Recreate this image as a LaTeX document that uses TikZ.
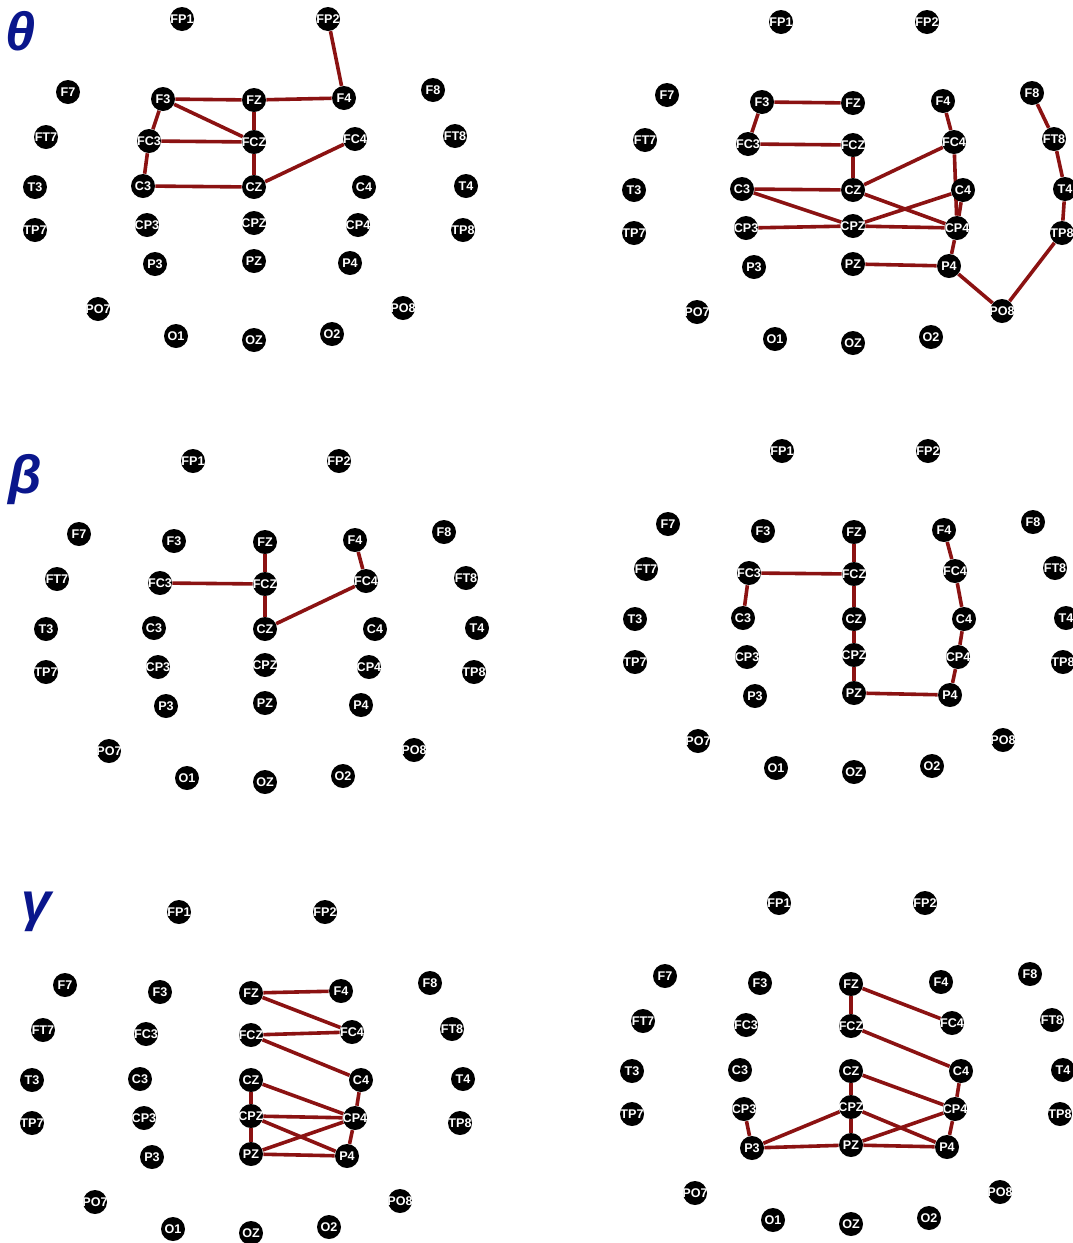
\documentclass[tikz,border=0pt]{standalone}
\usepackage{fontspec}
\setmainfont{Liberation Sans}
\setsansfont{Liberation Sans}
\definecolor{eegred}{HTML}{8B1212}
\definecolor{bandblue}{HTML}{0A168C}
\pgfdeclarelayer{bg}
\pgfsetlayers{bg,main}
\tikzset{
  elec/.style={circle,fill=black,minimum size=12pt,inner sep=0pt},
  elabel/.style={text=white,font=\sffamily\bfseries\fontsize{6.3}{6.3}\selectfont,inner sep=0pt},
  lnk/.style={draw=eegred,line width=1.8pt},
  band/.style={text=bandblue,font=\bfseries\itshape\fontsize{27}{27}\selectfont,inner sep=0pt},
}
% electrode layout of one head map (pixels, y down)
\def\electrodes{FP1/182/19,FP2/328/19,F7/68/92,F3/163/99,FZ/254/100,F4/344/98,F8/433/90,
  FT7/46/137,FC3/149/141,FCZ/254/142,FC4/355/139,FT8/455/136,
  T3/35/187,C3/143/186,CZ/254/187,C4/364/187,T4/466/186,
  TP7/35/230,CP3/147/225,CPZ/254/223,CP4/358/225,TP8/463/230,
  P3/155/264,PZ/254/261,P4/350/263,PO7/98/309,PO8/403/308,O1/176/336,OZ/254/340,O2/332/334}
\begin{document}
\begin{tikzpicture}[x=0.5pt,y=-0.5pt]
  \useasboundingbox (0,0) rectangle (1072,1243);
  \foreach \p/\dx/\dy in {p1/0/0,p2/599/3,p3/11/442,p4/600/432,p5/-3/893,p6/597/884}
    \foreach \n/\x/\y in \electrodes
      \node[elec,label={[elabel]center:\n}] (\p\n) at ({\x+\dx},{\y+\dy}) {};
  \node[band] (theta) at (21,31) {θ};
  \node[band] (beta) at (25,480) {β};
  \node[band] (gamma) at (37,912) {γ};
  \begin{pgfonlayer}{bg}
    % theta
    \foreach \a/\b in {FP2/F4,F3/FZ,FZ/F4,F3/FCZ,F3/FC3,FZ/FCZ,FC3/FCZ,FC3/C3,FCZ/CZ,C3/CZ,CZ/FC4}
      \draw[lnk](p1\a)--(p1\b);
    \foreach \a/\b in {F3/FZ,F3/FC3,FC3/FCZ,FCZ/CZ,F4/FC4,FC4/CZ,FC4/CP4,C3/CZ,C3/CPZ,CZ/CP4,C4/CPZ,C4/CP4,
      CP3/CPZ,CPZ/CP4,CP4/P4,PZ/P4,P4/PO8,PO8/TP8,TP8/T4,T4/FT8,FT8/F8}
      \draw[lnk](p2\a)--(p2\b);
    % beta
    \foreach \a/\b in {FZ/FCZ,FC3/FCZ,FCZ/CZ,CZ/FC4,FC4/F4}
      \draw[lnk](p3\a)--(p3\b);
    \foreach \a/\b in {FZ/FCZ,FC3/FCZ,FC3/C3,FCZ/CZ,CZ/CPZ,CPZ/PZ,PZ/P4,P4/CP4,CP4/C4,C4/FC4,FC4/F4}
      \draw[lnk](p4\a)--(p4\b);
    % gamma
    \foreach \a/\b in {FZ/F4,FZ/FC4,FCZ/FC4,FCZ/C4,CZ/CP4,CZ/CPZ,C4/CP4,CPZ/CP4,CPZ/P4,CPZ/PZ,PZ/CP4,PZ/P4,CP4/P4}
      \draw[lnk](p5\a)--(p5\b);
    \foreach \a/\b in {FZ/FC4,FZ/FCZ,FCZ/C4,CZ/CP4,CZ/CPZ,C4/CP4,CPZ/P3,CPZ/PZ,CPZ/P4,CP3/P3,P3/PZ,PZ/CP4,PZ/P4,CP4/P4}
      \draw[lnk](p6\a)--(p6\b);
  \end{pgfonlayer}
\end{tikzpicture}
\end{document}
